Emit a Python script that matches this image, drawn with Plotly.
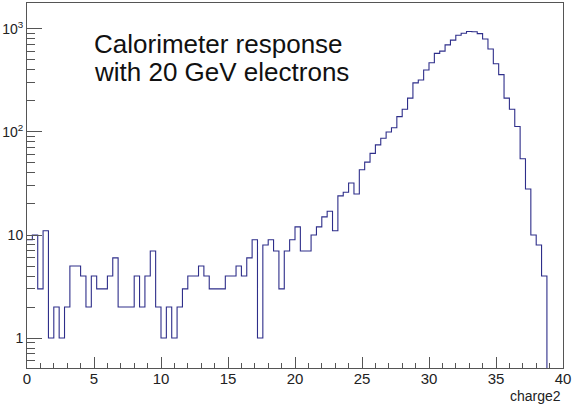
import numpy as np
import plotly.graph_objects as go

# Histogram of "charge2": 100 bins from 0 to 40
x_min, x_max, n_bins = 0.0, 40.0, 100
counts = [9, 10, 3, 11, 1, 2, 1, 2, 5, 5,
          4, 2, 4, 3, 3, 4, 6, 2, 2, 2,
          4, 2, 4, 7, 2, 1, 2, 1, 2, 3,
          4, 4, 5, 4, 3, 3, 3, 4, 4, 5,
          4, 6, 9, 1, 8, 9, 7, 3, 7, 9,
          12, 7, 7, 10, 12, 15, 17, 11, 24, 26,
          32, 25, 43, 51, 62, 75, 87, 100, 110, 141,
          166, 213, 300, 320, 400, 470, 580, 610, 700, 780,
          870, 910, 945, 940, 900, 800, 640, 460, 360, 213,
          166, 113, 55, 28, 10, 8, 4, 0, 0, 0]
y_tick_vals = [1, 10, 100, 1000]
y_tick_text = ["1", "10", "10<sup>2</sup>", "10<sup>3</sup>"]
x_tick_vals = [0, 5, 10, 15, 20, 25, 30, 35, 40]
title_lines = ["Calorimeter response", "with 20 GeV electrons"]
x_title = "charge2"

edges = np.linspace(x_min, x_max, n_bins + 1)
floor_val = 0.05  # empty bins drop below the visible log range
yv = [c if c > 0 else floor_val for c in counts]
xs = list(edges[:-1]) + [edges[-1]]
ys = yv + [yv[-1]]

fig = go.Figure()
fig.add_trace(go.Scatter(
    x=xs, y=ys, mode="lines", line_shape="hv",
    line=dict(color="#2e2e8a", width=1.1), hoverinfo="skip", showlegend=False))

font_family = "Liberation Sans, Arial, sans-serif"
fig.update_layout(
    width=575, height=404,
    margin=dict(l=27, r=12, t=3, b=36),
    paper_bgcolor="white", plot_bgcolor="white",
    font=dict(family=font_family, color="black", size=15),
    showlegend=False,
)
fig.update_xaxes(
    range=[x_min, x_max], showgrid=False, zeroline=False,
    showline=True, linecolor="#555", linewidth=1, mirror=True,
    tickmode="array", tickvals=x_tick_vals,
    ticks="inside", ticklen=11, tickcolor="#555", tickwidth=1,
    ticklabelstandoff=-3,
    tickfont=dict(size=15, family=font_family, color="#222"),
    minor=dict(dtick=1, ticks="inside", ticklen=5, tickcolor="#555", showgrid=False),
)
fig.update_yaxes(
    type="log", range=[-0.291, 3.252], showgrid=False, zeroline=False,
    showline=True, linecolor="#555", linewidth=1, mirror=True,
    tickmode="array", tickvals=y_tick_vals, ticktext=y_tick_text,
    ticks="inside", ticklen=15, tickcolor="#555", tickwidth=1,
    tickfont=dict(size=14, family=font_family, color="#222"),
    minor=dict(dtick="D1", ticks="inside", ticklen=8, tickcolor="#555", showgrid=False),
)

fig.add_annotation(text=title_lines[0], xref="paper", yref="paper",
                   x=0.121, y=0.888, xanchor="left", yanchor="middle", showarrow=False,
                   font=dict(size=26, family=font_family, color="#111"))
fig.add_annotation(text=title_lines[1], xref="paper", yref="paper",
                   x=0.121, y=0.811, xanchor="left", yanchor="middle", showarrow=False,
                   font=dict(size=26, family=font_family, color="#111"))
fig.add_annotation(text=x_title, xref="paper", yref="paper",
                   x=1.0, y=-0.077, xanchor="right", yanchor="middle", showarrow=False,
                   font=dict(size=14, family=font_family, color="#222"))

fig.write_html("out.html")
